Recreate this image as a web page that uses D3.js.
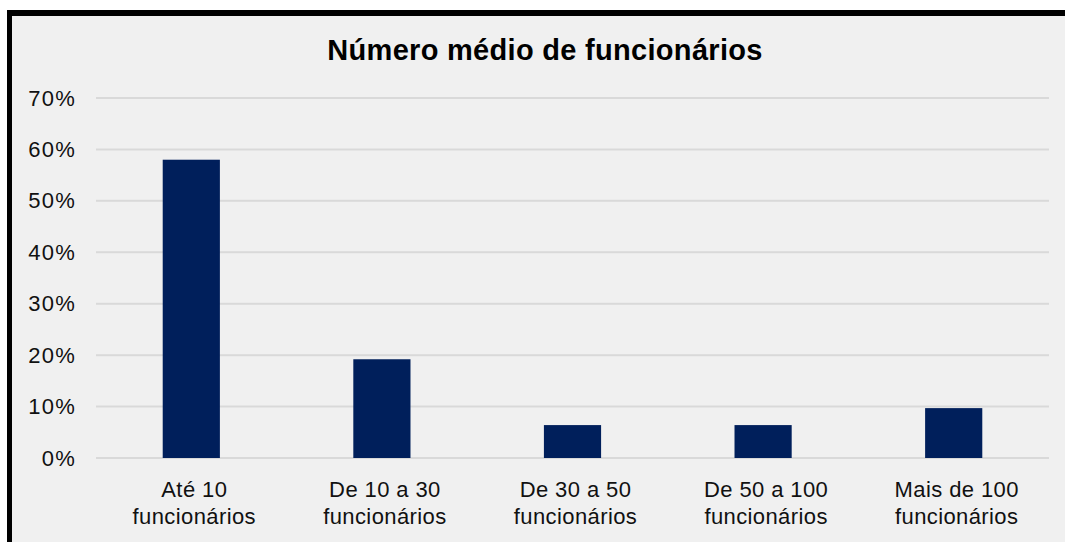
<!doctype html>
<html lang="pt">
<head>
<meta charset="utf-8">
<title>Número médio de funcionários</title>
<script src="https://d3js.org/d3.v7.min.js"></script>
<style>
  body { margin: 0; background: #fff; }
  svg { display: block; font-family: "Liberation Sans", Arial, sans-serif; }
</style>
</head>
<body>
<svg id="chart" width="1065" height="542"></svg>
<script>
// data
var categories = [["Até 10", "funcionários"], ["De 10 a 30", "funcionários"], ["De 30 a 50", "funcionários"], ["De 50 a 100", "funcionários"], ["Mais de 100", "funcionários"]];
var values = [0.58, 0.192, 0.064, 0.064, 0.097];
var yTicks = [0, 0.1, 0.2, 0.3, 0.4, 0.5, 0.6, 0.7];

var svg = d3.select("#chart");

// chart area background + border
svg.append("rect").attr("x", 7).attr("y", 10).attr("width", 1070).attr("height", 540).attr("fill", "#f0f0f0");
svg.append("rect").attr("x", 7).attr("y", 10).attr("width", 1070).attr("height", 6).attr("fill", "#000");
svg.append("rect").attr("x", 7).attr("y", 10).attr("width", 5).attr("height", 540).attr("fill", "#000");

svg.append("text")
  .attr("x", 545).attr("y", 60)
  .attr("text-anchor", "middle")
  .attr("font-size", 29).attr("font-weight", "bold").attr("fill", "#000")
  .attr("letter-spacing", 0.3)
  .text("Número médio de funcionários");

var plotLeft = 96, plotRight = 1049, plotTop = 98, plotBottom = 458;

var x = d3.scaleBand()
  .domain(d3.range(categories.length))
  .range([plotLeft, plotRight])
  .paddingInner(0.7)
  .paddingOuter(0.35);

var y = d3.scaleLinear().domain([0, 0.7]).range([plotBottom, plotTop]);

// gridlines
svg.append("g").selectAll("line")
  .data(yTicks).enter().append("line")
  .attr("x1", plotLeft).attr("x2", plotRight)
  .attr("y1", function(d) { return y(d); })
  .attr("y2", function(d) { return y(d); })
  .attr("stroke", "#d9d9d9").attr("stroke-width", 2);

// y axis labels
var yAxis = d3.axisLeft(y).tickValues(yTicks).tickSize(0).tickPadding(0)
  .tickFormat(function(d) { return Math.round(d * 100) + "%"; });
var gy = svg.append("g").attr("transform", "translate(76,0)").call(yAxis);
gy.select(".domain").remove();
gy.selectAll("text")
  .attr("font-size", 22).attr("fill", "#111")
  .attr("letter-spacing", 1.2)
  .attr("font-family", "Liberation Sans, Arial, sans-serif");

// bars
svg.append("g").selectAll("rect")
  .data(values).enter().append("rect")
  .attr("x", function(d, i) { return x(i); })
  .attr("y", function(d) { return y(d); })
  .attr("width", x.bandwidth())
  .attr("height", function(d) { return y(0) - y(d); })
  .attr("fill", "#001f5b");

// x labels
var xl = svg.append("g").selectAll("text")
  .data(categories).enter().append("text")
  .attr("text-anchor", "middle")
  .attr("font-size", 22).attr("fill", "#111")
  .attr("letter-spacing", 0.4)
  .attr("transform", function(d, i) { return "translate(" + (x(i) + x.bandwidth() / 2 + 3) + ",497)"; });
xl.append("tspan").attr("x", 0).attr("y", 0).text(function(d) { return d[0]; });
xl.append("tspan").attr("x", 0).attr("y", 27).text(function(d) { return d[1]; });
</script>
</body>
</html>
